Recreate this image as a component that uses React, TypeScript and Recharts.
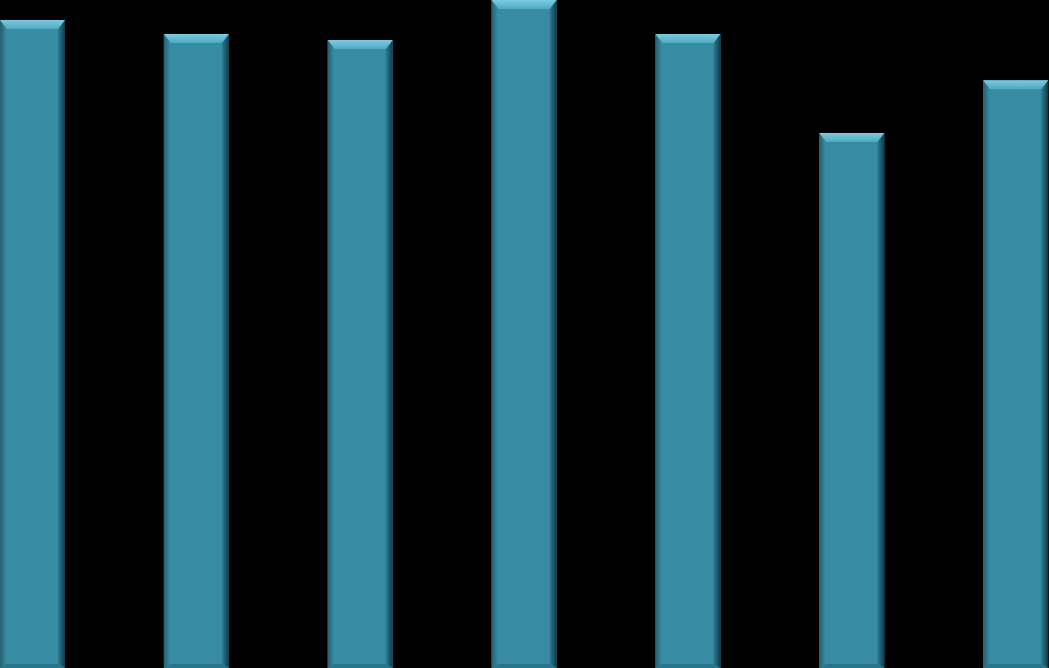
import { BarChart, Bar, XAxis, YAxis } from "recharts";

const categories = ["1", "2", "3", "4", "5", "6", "7"];
const values = [97.0, 94.9, 94.0, 100, 94.9, 80.1, 88.0];

const data = categories.map((name, i) => ({ name, value: values[i] }));

function BevelBar(props: any) {
  const { x, y, width: w, height: h } = props;
  if (!w || !h) return null;
  const b = 9;
  const s = 7;
  const bb = 4;
  return (
    <g>
      <rect x={x} y={y} width={w} height={h} fill="#378ba3" />
      <polygon
        points={`${x},${y} ${x + s},${y + b} ${x + s},${y + h - bb} ${x},${y + h}`}
        fill="url(#leftEdge)"
      />
      <polygon
        points={`${x + w},${y} ${x + w - s},${y + b} ${x + w - s},${y + h - bb} ${x + w},${y + h}`}
        fill="url(#rightEdge)"
      />
      <polygon
        points={`${x},${y} ${x + w},${y} ${x + w - s},${y + b} ${x + s},${y + b}`}
        fill="url(#topEdge)"
      />
      <polygon
        points={`${x},${y + h} ${x + w},${y + h} ${x + w - s},${y + h - bb} ${x + s},${y + h - bb}`}
        fill="#2a7489"
      />
    </g>
  );
}

export default function App() {
  return (
    <div style={{ position: "fixed", left: 0, top: 0, width: 1049, height: 668, background: "#000", overflow: "hidden" }}>
      <BarChart
        width={1049}
        height={668}
        data={data}
        margin={{ top: 0, right: -49, left: -49, bottom: 0 }}
        barCategoryGap={49}
      >
        <defs>
          <linearGradient id="topEdge" x1="0" y1="0" x2="0" y2="1">
            <stop offset="0%" stopColor="#7ccbe0" />
            <stop offset="100%" stopColor="#4ea9c1" />
          </linearGradient>
          <linearGradient id="leftEdge" x1="0" y1="0" x2="1" y2="0">
            <stop offset="0%" stopColor="#23606f" />
            <stop offset="100%" stopColor="#3a90a8" />
          </linearGradient>
          <linearGradient id="rightEdge" x1="1" y1="0" x2="0" y2="0">
            <stop offset="0%" stopColor="#12394a" />
            <stop offset="100%" stopColor="#2f7d93" />
          </linearGradient>
        </defs>
        <XAxis dataKey="name" hide />
        <YAxis hide domain={[0, 100]} />
        <Bar dataKey="value" barSize={65} shape={<BevelBar />} isAnimationActive={false} />
      </BarChart>
    </div>
  );
}
